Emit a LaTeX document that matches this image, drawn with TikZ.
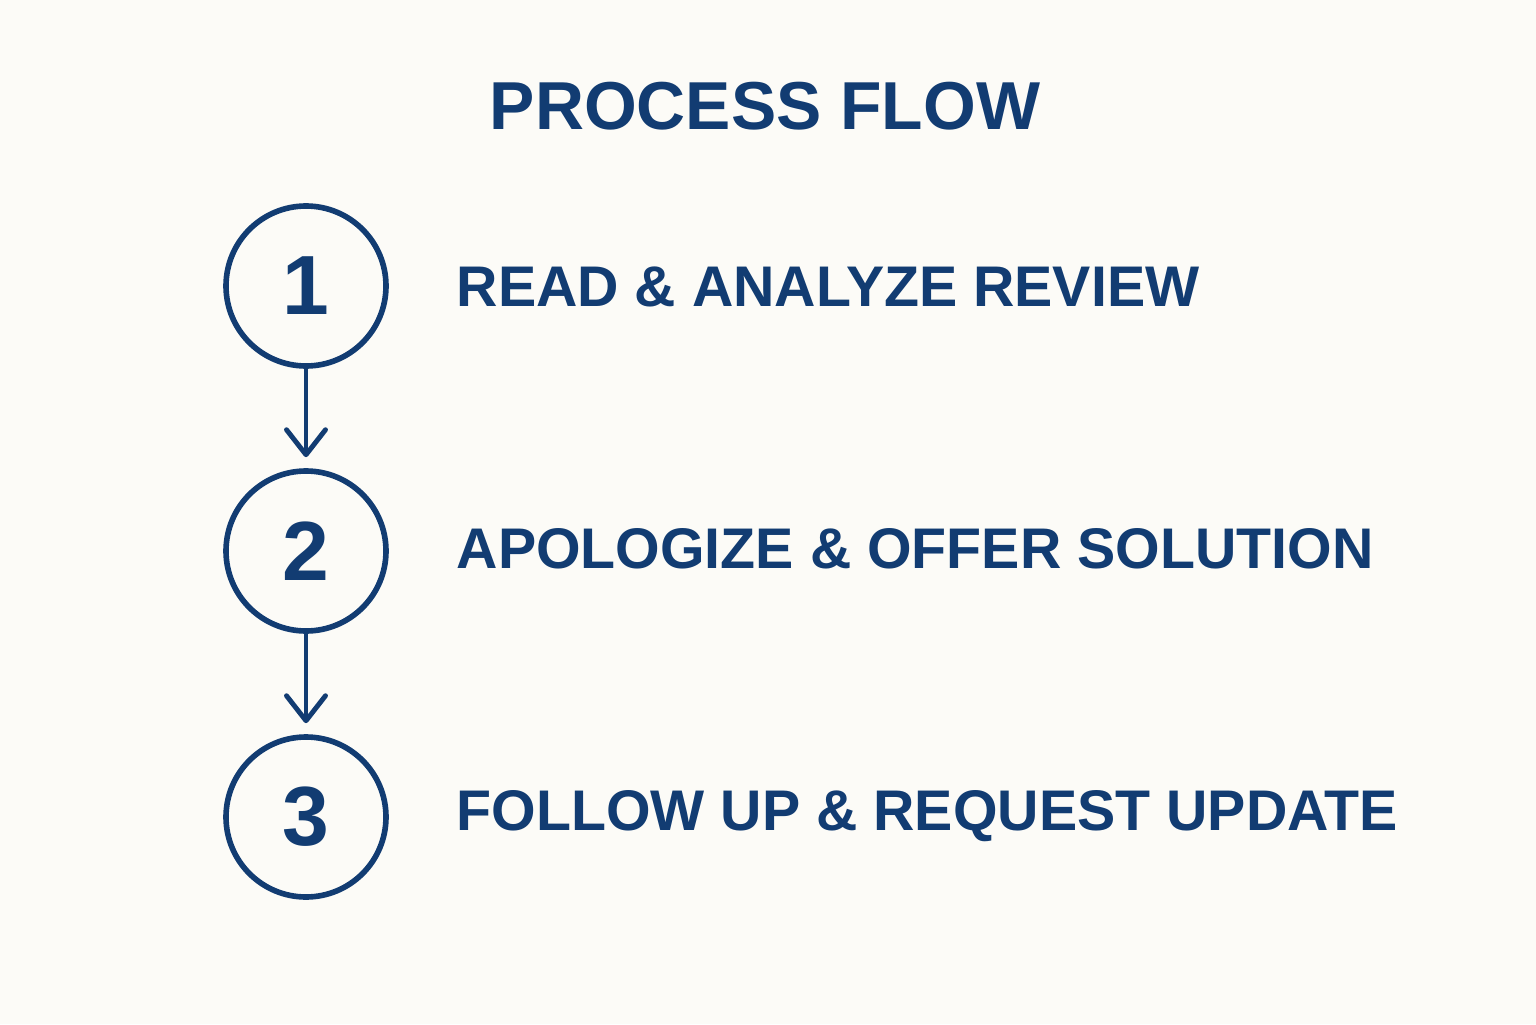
\documentclass[tikz,border=0pt]{standalone}
\usepackage{fontspec}
\setmainfont{Liberation Sans}
\usetikzlibrary{positioning, arrows.meta}

\definecolor{flowblue}{HTML}{123C72}
\definecolor{paper}{HTML}{FCFBF7}

\begin{document}
\begin{tikzpicture}[
    >={Straight Barb[length=2.5mm, width=3.9mm, line width=1.4pt, round]},
    stepcircle/.style={
        draw=flowblue, circle, line width=1.6pt, minimum size=1.6cm,
        inner sep=0pt, text=flowblue, font=\fontsize{23.9}{24}\selectfont\bfseries
    },
    steplabel/.style={
        anchor=base west, inner sep=0pt, text=flowblue,
        font=\fontsize{16.3}{17}\selectfont\bfseries
    },
    flowarrow/.style={->, draw=flowblue, line width=1.4pt}
]

% Canvas
\fill[paper] (0,0) rectangle (15.36,10.24);
\useasboundingbox (0,0) rectangle (15.36,10.24);

% Title
\node[anchor=base, inner sep=0pt, text=flowblue, font=\fontsize{19.3}{20}\selectfont\bfseries] (title) at (7.65, 8.94) {PROCESS FLOW};

% -------------------------
% Steps
% -------------------------

% 1. Read
\node[stepcircle] (StepOne) at (3.06, 7.38) {1};
\node[steplabel] (LabelOne) at (4.56, 7.18) {READ \& ANALYZE REVIEW};

% 2. Apologize
\node[stepcircle] (StepTwo) at (3.06, 4.73) {2};
\node[steplabel] (LabelTwo) at (4.56, 4.56) {APOLOGIZE \& OFFER SOLUTION};

% 3. Follow up
\node[stepcircle] (StepThree) at (3.06, 2.07) {3};
\node[steplabel] (LabelThree) at (4.56, 1.94) {FOLLOW UP \& REQUEST UPDATE};

% -------------------------
% Connections
% -------------------------
\draw[flowarrow] (StepOne.south) -- ([yshift=1.1mm]StepTwo.north);
\draw[flowarrow] (StepTwo.south) -- ([yshift=1.1mm]StepThree.north);

\end{tikzpicture}
\end{document}
